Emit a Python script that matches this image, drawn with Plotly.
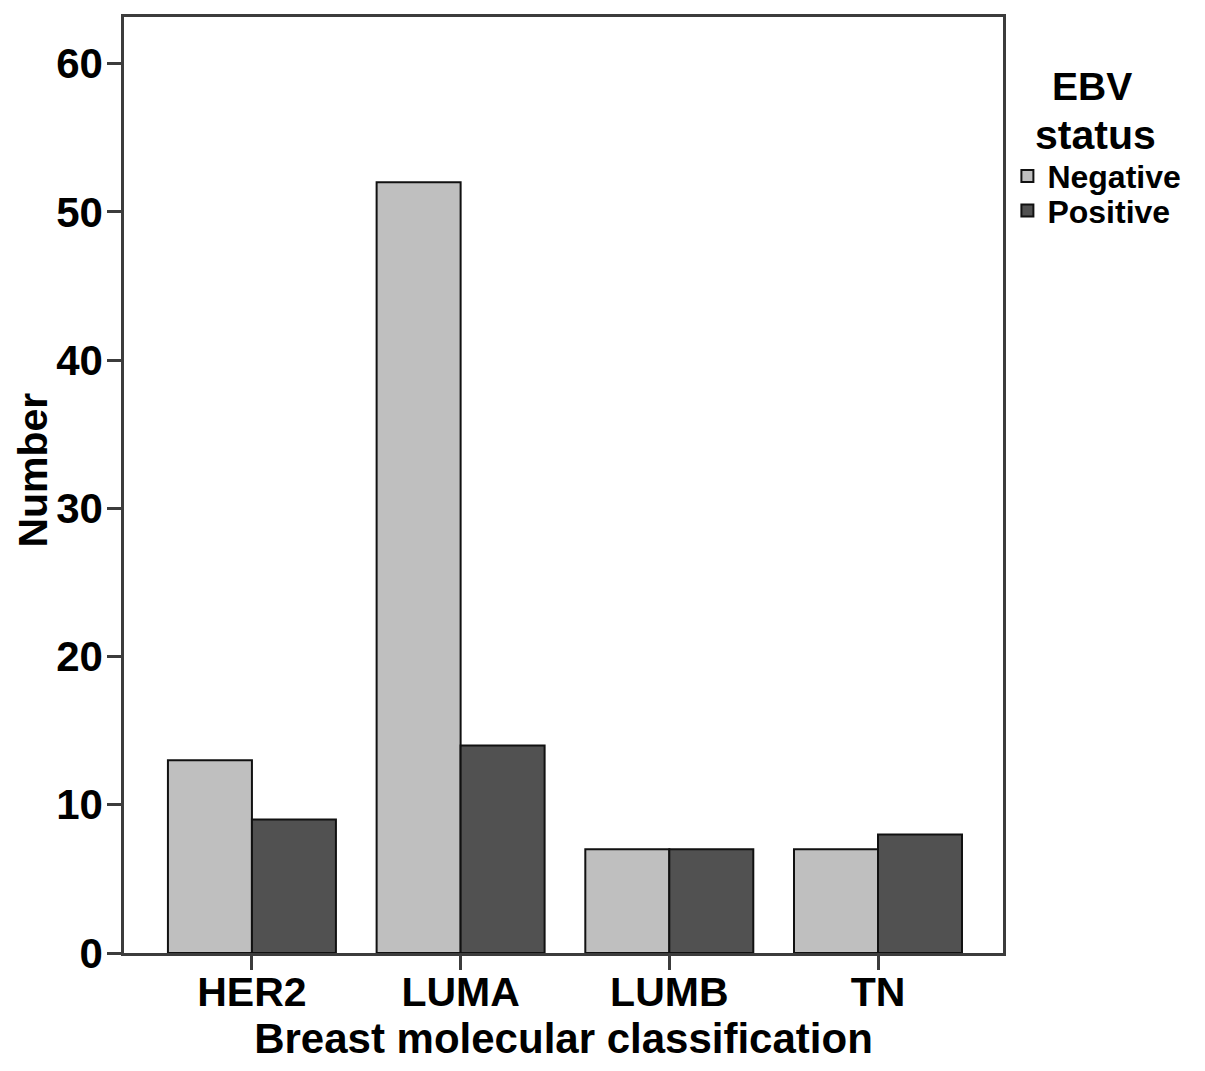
import plotly.graph_objects as go

categories = ["HER2", "LUMA", "LUMB", "TN"]
negative = [13, 52, 7, 7]
positive = [9, 14, 7, 8]
y_ticks = [0, 10, 20, 30, 40, 50, 60]

FONT = "Liberation Sans, Arial, sans-serif"
LINE = "#3c3c3c"

fig = go.Figure()
fig.add_trace(go.Bar(x=categories, y=negative, name="Negative", legend="legend",
                     marker=dict(color="#bfbfbf", line=dict(color="#111111", width=2))))
fig.add_trace(go.Bar(x=categories, y=positive, name="Positive", legend="legend2",
                     marker=dict(color="#515151", line=dict(color="#111111", width=2))))

legend_common = dict(
    xanchor="left", yanchor="middle",
    font=dict(size=32, family=FONT, color="black", weight="bold"),
    itemwidth=30, bgcolor="rgba(0,0,0,0)",
)

fig.update_layout(
    width=1189, height=1055,
    margin=dict(l=116, r=194, t=6, b=110),
    paper_bgcolor="white", plot_bgcolor="white",
    barmode="group", bargap=0.195, bargroupgap=0,
    font=dict(family=FONT, color="black"),
    showlegend=True,
    legend=dict(x=1.005, y=0.830, **legend_common),
    legend2=dict(x=1.005, y=0.793, **legend_common),
    annotations=[
        dict(text="<b>EBV</b>", xref="paper", yref="paper", x=1.1018, y=0.902,
             xanchor="center", yanchor="bottom", showarrow=False, borderpad=0,
             font=dict(size=39, family=FONT, color="black")),
        dict(text="<b>status</b>", xref="paper", yref="paper", x=1.1052, y=0.900,
             xanchor="center", yanchor="top", showarrow=False, borderpad=0,
             font=dict(size=41, family=FONT, color="black")),
        dict(text="<b>Number</b>", xref="paper", yref="paper", x=-0.1035, y=0.5154,
             xanchor="center", yanchor="middle", showarrow=False, textangle=-90,
             font=dict(size=41, family=FONT, color="black")),
    ],
    xaxis=dict(
        range=[-0.613, 3.599],
        showline=True, linecolor=LINE, linewidth=2.5, mirror=True,
        ticks="outside", ticklen=14, tickwidth=2.5, tickcolor=LINE,
        ticklabelstandoff=-13,
        tickfont=dict(size=41, family=FONT, color="black", weight="bold"),
        title=dict(text="<b>Breast molecular classification</b>",
                   font=dict(size=42, family=FONT, color="black"), standoff=7),
        showgrid=False, zeroline=False,
    ),
    yaxis=dict(
        range=[0, 63.15], tickvals=y_ticks,
        showline=True, linecolor=LINE, linewidth=2.5, mirror=True,
        ticks="outside", ticklen=14, tickwidth=2.5, tickcolor=LINE,
        ticklabelstandoff=-4,
        tickfont=dict(size=42, family=FONT, color="black", weight="bold"),
        showgrid=False, zeroline=False,
    ),
)

fig.write_html("out.html")
